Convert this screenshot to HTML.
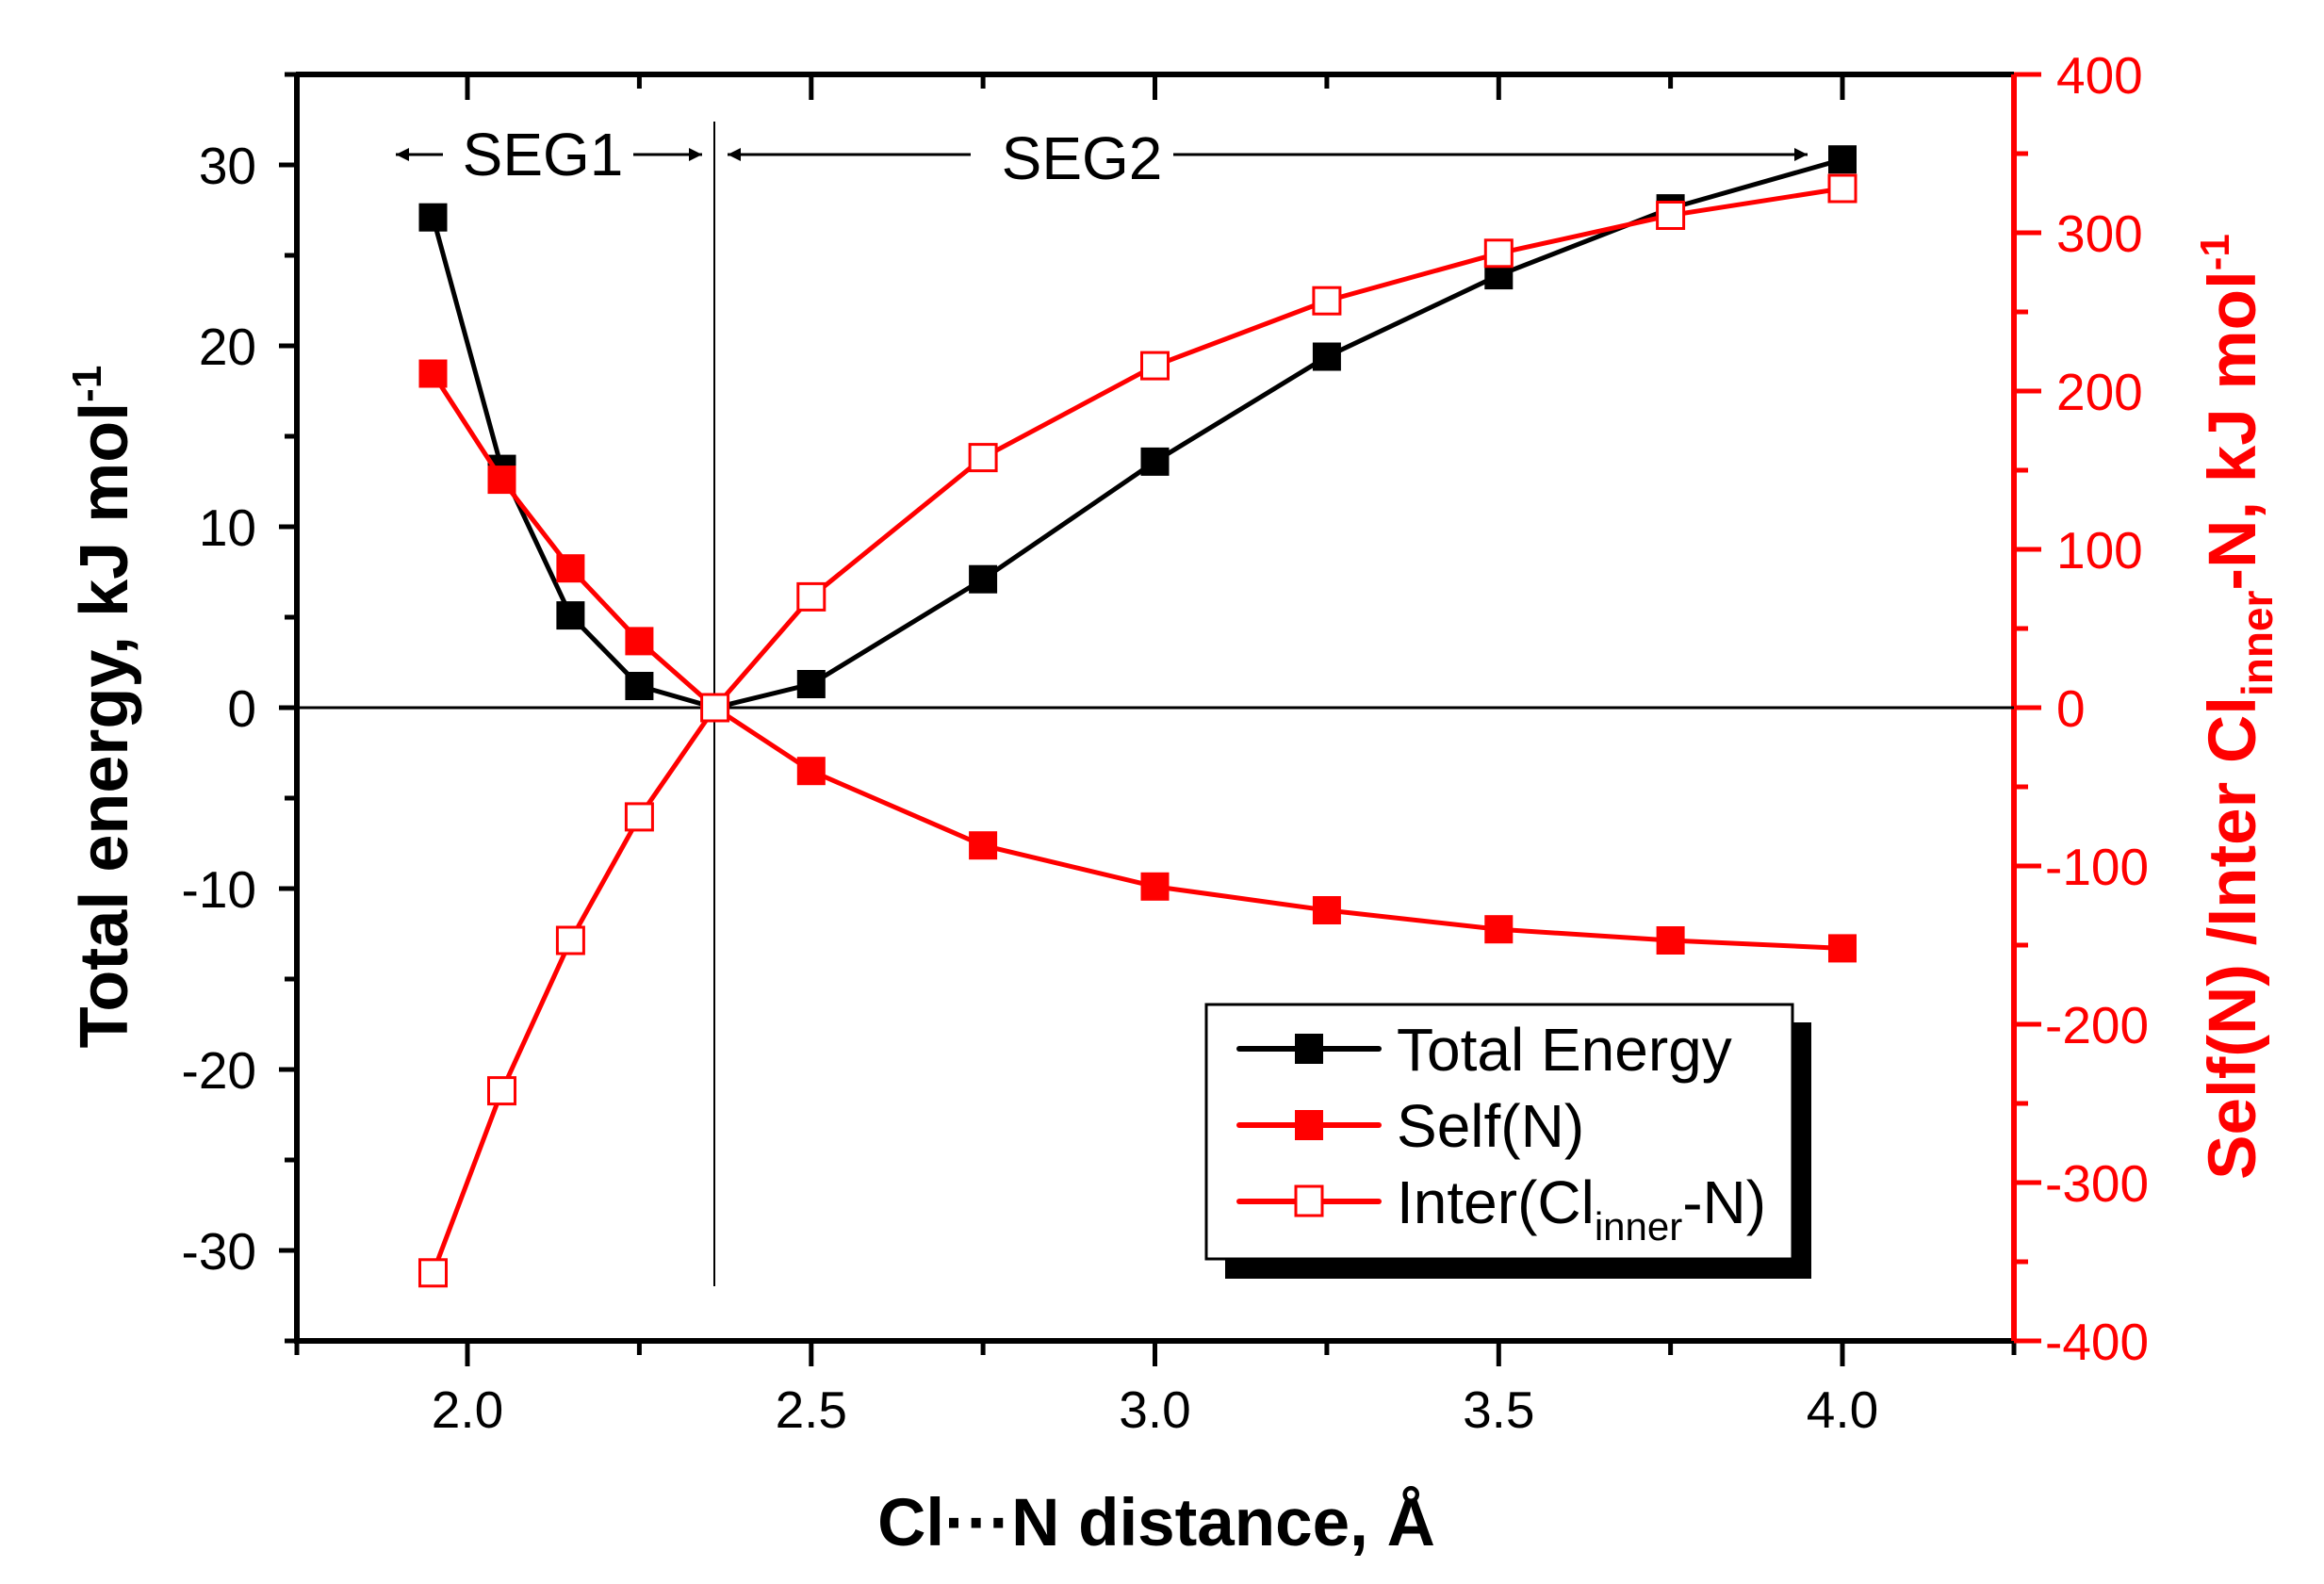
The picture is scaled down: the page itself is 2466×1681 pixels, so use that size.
<!DOCTYPE html>
<html><head><meta charset="utf-8"><style>html,body{margin:0;padding:0;background:#fff}svg{display:block}</style></head><body>
<svg width="2466" height="1681" viewBox="0 0 2466 1681" xmlns="http://www.w3.org/2000/svg" font-family="Liberation Sans, Arial, sans-serif">
<defs>
<marker id="ah" viewBox="0 0 10 10" refX="10" refY="5" markerWidth="16" markerHeight="14" markerUnits="userSpaceOnUse" orient="auto"><path d="M0,0 L10,5 L0,10 z"/></marker>
</defs>
<g stroke="#000" stroke-width="6" fill="none">
<line x1="314" y1="79" x2="2137" y2="79"/>
<line x1="314" y1="1423" x2="2137" y2="1423"/>
<line x1="315" y1="79" x2="315" y2="1426"/>
</g>
<line x1="2137" y1="79" x2="2137" y2="1423" stroke="#f00" stroke-width="6"/>
<line x1="315" y1="751" x2="2137" y2="751" stroke="#000" stroke-width="3"/>
<line x1="758" y1="129" x2="758" y2="1365" stroke="#000" stroke-width="2"/>
<g stroke="#000" stroke-width="5">
<line x1="296" y1="175" x2="315" y2="175"/><line x1="296" y1="367" x2="315" y2="367"/><line x1="296" y1="559" x2="315" y2="559"/><line x1="296" y1="751" x2="315" y2="751"/><line x1="296" y1="943" x2="315" y2="943"/><line x1="296" y1="1135" x2="315" y2="1135"/><line x1="296" y1="1327" x2="315" y2="1327"/>
<line x1="302" y1="79" x2="315" y2="79"/><line x1="302" y1="271" x2="315" y2="271"/><line x1="302" y1="463" x2="315" y2="463"/><line x1="302" y1="655" x2="315" y2="655"/><line x1="302" y1="847" x2="315" y2="847"/><line x1="302" y1="1039" x2="315" y2="1039"/><line x1="302" y1="1231" x2="315" y2="1231"/><line x1="302" y1="1423" x2="315" y2="1423"/>
<line x1="496" y1="1423" x2="496" y2="1450"/><line x1="860.8" y1="1423" x2="860.8" y2="1450"/><line x1="1225.5" y1="1423" x2="1225.5" y2="1450"/><line x1="1590.3" y1="1423" x2="1590.3" y2="1450"/><line x1="1955" y1="1423" x2="1955" y2="1450"/>
<line x1="315" y1="1423" x2="315" y2="1438"/><line x1="678.4" y1="1423" x2="678.4" y2="1438"/><line x1="1043.1" y1="1423" x2="1043.1" y2="1438"/><line x1="1407.9" y1="1423" x2="1407.9" y2="1438"/><line x1="1772.6" y1="1423" x2="1772.6" y2="1438"/><line x1="2137" y1="1423" x2="2137" y2="1438"/>
<line x1="496" y1="79" x2="496" y2="106"/><line x1="860.8" y1="79" x2="860.8" y2="106"/><line x1="1225.5" y1="79" x2="1225.5" y2="106"/><line x1="1590.3" y1="79" x2="1590.3" y2="106"/><line x1="1955" y1="79" x2="1955" y2="106"/>
<line x1="678.4" y1="79" x2="678.4" y2="94"/><line x1="1043.1" y1="79" x2="1043.1" y2="94"/><line x1="1407.9" y1="79" x2="1407.9" y2="94"/><line x1="1772.6" y1="79" x2="1772.6" y2="94"/>
</g>
<g stroke="#f00" stroke-width="5">
<line x1="2137" y1="79" x2="2166" y2="79"/><line x1="2137" y1="247" x2="2166" y2="247"/><line x1="2137" y1="415" x2="2166" y2="415"/><line x1="2137" y1="583" x2="2166" y2="583"/><line x1="2137" y1="751" x2="2166" y2="751"/><line x1="2137" y1="919" x2="2166" y2="919"/><line x1="2137" y1="1087" x2="2166" y2="1087"/><line x1="2137" y1="1255" x2="2166" y2="1255"/><line x1="2137" y1="1423" x2="2166" y2="1423"/>
<line x1="2137" y1="163" x2="2152" y2="163"/><line x1="2137" y1="331" x2="2152" y2="331"/><line x1="2137" y1="499" x2="2152" y2="499"/><line x1="2137" y1="667" x2="2152" y2="667"/><line x1="2137" y1="835" x2="2152" y2="835"/><line x1="2137" y1="1003" x2="2152" y2="1003"/><line x1="2137" y1="1171" x2="2152" y2="1171"/><line x1="2137" y1="1339" x2="2152" y2="1339"/>
</g>
<g font-size="55" fill="#000" text-anchor="end">
<text x="272" y="195">30</text><text x="272" y="387">20</text><text x="272" y="579">10</text><text x="272" y="771">0</text><text x="272" y="963">-10</text><text x="272" y="1155">-20</text><text x="272" y="1347">-30</text>
</g>
<g font-size="55" fill="#f00" text-anchor="start">
<text x="2182" y="99">400</text><text x="2182" y="267">300</text><text x="2182" y="435">200</text><text x="2182" y="603">100</text><text x="2182" y="771">0</text><text x="2170" y="939">-100</text><text x="2170" y="1107">-200</text><text x="2170" y="1275">-300</text><text x="2170" y="1443">-400</text>
</g>
<g font-size="55" fill="#000" text-anchor="middle">
<text x="496" y="1515">2.0</text><text x="860.8" y="1515">2.5</text><text x="1225.5" y="1515">3.0</text><text x="1590.3" y="1515">3.5</text><text x="1955" y="1515">4.0</text>
</g>
<text x="1227" y="1640" font-size="71" font-weight="bold" text-anchor="middle">Cl···N distance, Å</text>
<text transform="translate(135,750) rotate(-90)" font-size="72" font-weight="bold" text-anchor="middle">Total energy, kJ mol<tspan dy="-28" font-size="44">-1</tspan></text>
<text transform="translate(2393,750) rotate(-90)" font-size="71" font-weight="bold" text-anchor="middle" fill="#f00">Self(N) /Inter Cl<tspan dy="18" font-size="46">inner</tspan><tspan dy="-18">-N, kJ mol</tspan><tspan dy="-28" font-size="44">-1</tspan></text>
<g stroke="#000" stroke-width="3">
<line x1="470" y1="164" x2="420" y2="164" marker-end="url(#ah)"/>
<line x1="672" y1="164" x2="745" y2="164" marker-end="url(#ah)"/>
<line x1="1030" y1="164" x2="772" y2="164" marker-end="url(#ah)"/>
<line x1="1245" y1="164" x2="1918" y2="164" marker-end="url(#ah)"/>
</g>
<rect x="1035" y="130" width="208" height="70" fill="#fff"/>
<text x="576" y="186" font-size="64" text-anchor="middle">SEG1</text>
<text x="1148" y="190" font-size="64" text-anchor="middle">SEG2</text>
<polyline fill="none" stroke="#000" stroke-width="5" points="459.5,230.7 532.5,497.6 605.4,653.1 678.4,728 758.6,751 860.8,726 1043.1,614.7 1225.5,489.9 1407.9,378.5 1590.3,292.1 1772.6,221.1 1955,169.2"/>
<g fill="#000">
<rect x="444.5" y="215.7" width="30" height="30"/><rect x="517.5" y="482.6" width="30" height="30"/><rect x="590.4" y="638.1" width="30" height="30"/><rect x="663.4" y="713" width="30" height="30"/><rect x="845.8" y="711" width="30" height="30"/><rect x="1028.1" y="599.7" width="30" height="30"/><rect x="1210.5" y="474.9" width="30" height="30"/><rect x="1392.9" y="363.5" width="30" height="30"/><rect x="1575.3" y="277.1" width="30" height="30"/><rect x="1757.6" y="206.1" width="30" height="30"/><rect x="1940" y="154.2" width="30" height="30"/>
</g>
<polyline fill="none" stroke="#f00" stroke-width="5" points="459.5,396.5 532.5,509.1 605.4,603.2 678.4,680.4 758.6,751 860.8,818.2 1043.1,897.2 1225.5,940.8 1407.9,966 1590.3,986.2 1772.6,998 1955,1006.4"/>
<g fill="#f00">
<rect x="444.5" y="381.5" width="30" height="30"/><rect x="517.5" y="494.1" width="30" height="30"/><rect x="590.4" y="588.2" width="30" height="30"/><rect x="663.4" y="665.4" width="30" height="30"/><rect x="845.8" y="803.2" width="30" height="30"/><rect x="1028.1" y="882.2" width="30" height="30"/><rect x="1210.5" y="925.8" width="30" height="30"/><rect x="1392.9" y="951" width="30" height="30"/><rect x="1575.3" y="971.2" width="30" height="30"/><rect x="1757.6" y="983" width="30" height="30"/><rect x="1940" y="991.4" width="30" height="30"/>
</g>
<polyline fill="none" stroke="#f00" stroke-width="5" points="459.5,1350.8 532.5,1157.6 605.4,998 678.4,866.9 758.6,751 860.8,633.4 1043.1,485.6 1225.5,388.1 1407.9,319.2 1590.3,268.8 1772.6,228.5 1955,200"/>
<g fill="#fff" stroke="#f00" stroke-width="3">
<rect x="445.5" y="1336.8" width="28" height="28"/><rect x="518.5" y="1143.6" width="28" height="28"/><rect x="591.4" y="984" width="28" height="28"/><rect x="664.4" y="852.9" width="28" height="28"/><rect x="744.6" y="737" width="28" height="28"/><rect x="846.8" y="619.4" width="28" height="28"/><rect x="1029.1" y="471.6" width="28" height="28"/><rect x="1211.5" y="374.1" width="28" height="28"/><rect x="1393.9" y="305.2" width="28" height="28"/><rect x="1576.3" y="254.8" width="28" height="28"/><rect x="1758.6" y="214.5" width="28" height="28"/><rect x="1941" y="186" width="28" height="28"/>
</g>
<rect x="1300" y="1085" width="622" height="272" fill="#000"/>
<rect x="1280" y="1066" width="622" height="270" fill="#fff" stroke="#000" stroke-width="3"/>
<g stroke-width="6" stroke-linecap="round">
<line x1="1315" y1="1113" x2="1463" y2="1113" stroke="#000"/>
<line x1="1315" y1="1194" x2="1463" y2="1194" stroke="#f00"/>
<line x1="1315" y1="1275" x2="1463" y2="1275" stroke="#f00"/>
</g>
<rect x="1374" y="1097" width="30" height="32" fill="#000"/>
<rect x="1374" y="1178" width="30" height="32" fill="#f00"/>
<rect x="1375" y="1259" width="28" height="31" fill="#fff" stroke="#f00" stroke-width="3"/>
<g font-size="64" fill="#000">
<text x="1482" y="1136">Total Energy</text>
<text x="1482" y="1217">Self(N)</text>
<text x="1482" y="1298">Inter(Cl<tspan dy="18" font-size="42">inner</tspan><tspan dy="-18">-N)</tspan></text>
</g>
</svg>
</body></html>
